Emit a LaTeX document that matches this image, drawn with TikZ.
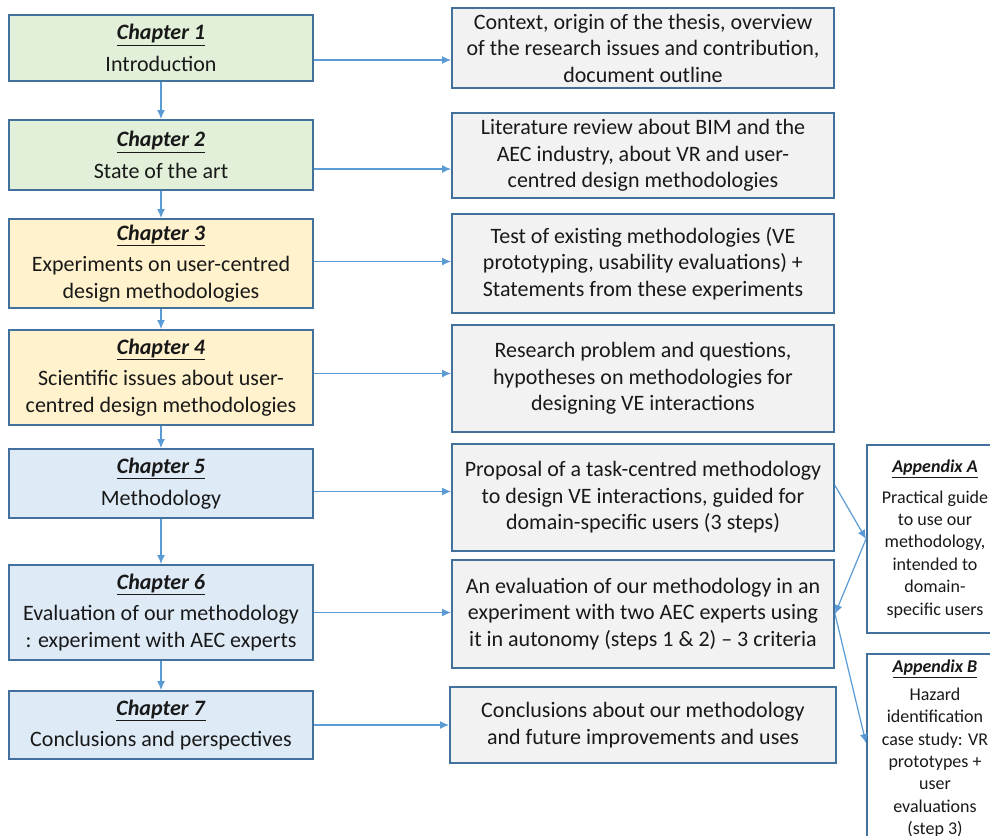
\documentclass[tikz,border=0pt]{standalone}
\usepackage{fontspec}
\setmainfont{Carlito}
\usetikzlibrary{arrows.meta}
\definecolor{chgreen}{HTML}{E2F0D9}
\definecolor{chyellow}{HTML}{FFF2CC}
\definecolor{chblue}{HTML}{DEEBF7}
\definecolor{boxgrey}{HTML}{F2F2F2}
\definecolor{edgeblue}{HTML}{41719C}
\definecolor{linkblue}{HTML}{5B9BD5}
\newcommand{\chaptitle}[1]{\underline{\textbf{\textit{#1}}}}

\begin{document}
\begin{tikzpicture}[x=1pt,y=-1pt,>={Latex[length=9pt,width=8pt]},
  font=\fontsize{22}{26.5}\selectfont,
  box/.style={draw=edgeblue,line width=2pt,align=center,inner sep=0pt,text=black!90},
  chapbox/.style={box,minimum width=304pt},
  sumbox/.style={box,fill=boxgrey,minimum width=382pt},
  appbox/.style={box,fill=white,minimum width=136pt,font=\fontsize{18}{22.4}\selectfont},
  link/.style={->,linkblue,line width=1.2pt}]

\useasboundingbox[fill=white] (0,0) rectangle (990,835);

% Chapters
\node[chapbox,fill=chgreen,minimum height=66pt] (ch1) at (161,48)
  {\chaptitle{Chapter 1}\\[5pt] Introduction};
\node[chapbox,fill=chgreen,minimum height=70pt] (ch2) at (161,155)
  {\chaptitle{Chapter 2}\\[5pt] State of the art};
\node[chapbox,fill=chyellow,minimum height=89pt] (ch3) at (161,263.5)
  {\chaptitle{Chapter 3}\\[5pt] Experiments on user-centred\\ design methodologies};
\node[chapbox,fill=chyellow,minimum height=95pt] (ch4) at (161,377.5)
  {\chaptitle{Chapter 4}\\[5pt] Scientific issues about user-\\ centred design methodologies};
\node[chapbox,fill=chblue,minimum height=69pt] (ch5) at (161,483.5)
  {\chaptitle{Chapter 5}\\[5pt] Methodology};
\node[chapbox,fill=chblue,minimum height=95pt] (ch6) at (161,612.5)
  {\chaptitle{Chapter 6}\\[5pt] Evaluation of our methodology\\ : experiment with AEC experts};
\node[chapbox,fill=chblue,minimum height=68pt] (ch7) at (161,725)
  {\chaptitle{Chapter 7}\\[5pt] Conclusions and perspectives};

% Summaries
\node[sumbox,minimum height=80pt] (sum1) at (643,48)
  {Context, origin of the thesis, overview\\ of the research issues and contribution,\\ document outline};
\node[sumbox,minimum height=85pt] (sum2) at (643,155.5)
  {Literature review about BIM and the\\ AEC industry, about VR and user-\\ centred design methodologies};
\node[sumbox,minimum height=99pt] (sum3) at (643,263.5)
  {Test of existing methodologies (VE\\ prototyping, usability evaluations) +\\ Statements from these experiments};
\node[sumbox,minimum height=107pt] (sum4) at (643,378.5)
  {Research problem and questions,\\ hypotheses on methodologies for\\ designing VE interactions};
\node[sumbox,minimum height=107pt] (sum5) at (643,497.5)
  {Proposal of a task-centred methodology\\ to design VE interactions, guided for\\ domain-specific users (3 steps)};
\node[sumbox,minimum height=108pt] (sum6) at (643,614)
  {An evaluation of our methodology in an\\ experiment with two AEC experts using\\ it in autonomy (steps 1 \& 2) -- 3 criteria};
\node[sumbox,minimum width=386pt,minimum height=76pt] (sum7) at (643,725)
  {Conclusions about our methodology\\ and future improvements and uses};

% Appendices
\node[appbox,minimum height=188pt] (appA) at (935,539)
  {\chaptitle{Appendix A}\\[8pt] Practical guide\\ to use our\\ methodology,\\ intended to\\ domain-\\ specific users};
\node[appbox,minimum height=190pt] (appB) at (935,749)
  {\chaptitle{Appendix B}\\[5pt] Hazard\\ identification\\ case study: VR\\ prototypes +\\ user\\ evaluations\\ (step 3)};

% Links
\foreach \i [count=\j from 2] in {1,...,6}
  \draw[link] (ch\i.south) -- (ch\j.north);
\foreach \i/\dy in {1/-12,2/-14,3/2,4/4,5/-8,6/0,7/0}
  \draw[link] ([yshift=\dy pt]ch\i.east) -- ([yshift=\dy pt]ch\i.east -| sum\i.west);

\draw[link] ([yshift=12pt]sum5.east) -- (appA.west);
\draw[link] (appA.west) -- (sum6.east);
\draw[link] (sum6.east) -- ([yshift=6pt]appB.west);

\end{tikzpicture}
\end{document}
